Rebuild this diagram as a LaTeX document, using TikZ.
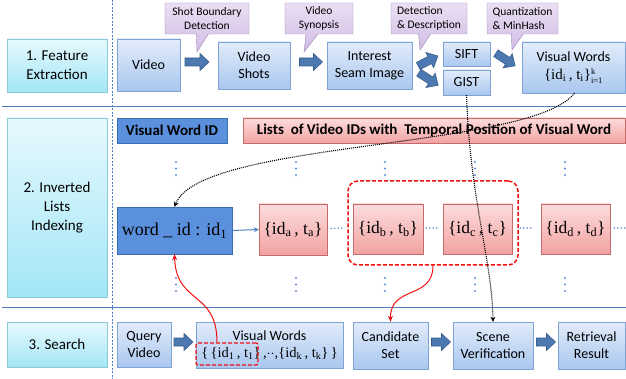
\documentclass[tikz,border=0pt]{standalone}
\usepackage{fontspec}
\setmainfont{Carlito}
\newfontfamily\tnr{Liberation Serif}
\usetikzlibrary{shapes.callouts,arrows.meta,calc}
\definecolor{lblT}{HTML}{E6F9FD}
\definecolor{lblBot}{HTML}{A3E6F6}
\definecolor{lblB}{HTML}{8CC8D8}
\definecolor{bbT}{HTML}{E2ECFA}
\definecolor{bbBot}{HTML}{A9C7EF}
\definecolor{bbB}{HTML}{7FA3D3}
\definecolor{clT}{HTML}{EADFF3}
\definecolor{clBot}{HTML}{D2BCE5}
\definecolor{clB}{HTML}{9C82BB}
\definecolor{arF}{HTML}{4C79B1}
\definecolor{arB}{HTML}{385E8E}
\definecolor{dkF}{HTML}{5A90DC}
\definecolor{dkB}{HTML}{3C6CB2}
\definecolor{pkT}{HTML}{FDDCDC}
\definecolor{pkBot}{HTML}{F2A2A2}
\definecolor{pkB}{HTML}{C46A6A}
\definecolor{dotC}{HTML}{5B8ED6}
\definecolor{divC}{HTML}{4F7FC0}
\definecolor{redC}{HTML}{F01010}
% block arrow: centre x, centre y, angle, half length
\newcommand{\blockarr}[4]{%
  \begin{scope}[shift={(#1,#2)},rotate=#3]
    \filldraw[barrowstyle] (-#4,-4) -- ({#4-9},-4) -- ({#4-9},-8.5) -- (#4,0) -- ({#4-9},8.5) -- ({#4-9},4) -- (-#4,4) -- cycle;
  \end{scope}}
\begin{document}
\begin{tikzpicture}[x=1pt,y=-1pt,
  lbl/.style={draw=lblB, top color=lblT, bottom color=lblBot, minimum width=100, font=\fontsize{15}{19}\selectfont, align=center, inner sep=0},
  bbox/.style={draw=bbB, top color=bbT, bottom color=bbBot, font=\fontsize{14}{17}\selectfont, align=center, inner sep=0},
  call/.style={rectangle callout, draw=clB, top color=clT, bottom color=clBot, font=\fontsize{11.5}{14}\selectfont, inner sep=0, callout pointer width=12},
  barrowstyle/.style={draw=arB, fill=arF, line width=0.6},
  dkbox/.style={draw=dkB, fill=dkF, inner sep=0},
  pk/.style={draw=pkB, top color=pkT, bottom color=pkBot, inner sep=0},
  mathbig/.style={font=\tnr\fontsize{17.5}{20}\selectfont},
  vdots/.style={draw=dotC, line width=2.4, line cap=round, dash pattern=on 0pt off 6.5pt},
  hdots/.style={draw=dotC, line width=1.7, line cap=round, dash pattern=on 0pt off 3.5pt},
  blkdot/.style={draw=black, line width=1.1, dash pattern=on 1pt off 1pt, -{Stealth[length=5pt,width=5pt]}},
  redline/.style={draw=redC, line width=1, -{Stealth[length=6pt,width=5pt]}},
  reddash/.style={draw=redC, line width=1.5, dashed, dash pattern=on 4pt off 2pt}
]
\useasboundingbox (0,0) rectangle (626,379);
% dividers
\draw[divC, line width=1] (2,107) -- (626,107);
\draw[divC, line width=1] (2,307) -- (626,307);
\draw[divC, line width=0.8, dash pattern=on 2pt off 1.5pt] (112,0) -- (112,379);
% row labels
\node[lbl, minimum height=53] (L1) at (57,65.5) {1. Feature\\Extraction};
\node[lbl, minimum height=179] (L2) at (57,207.5) {2. Inverted\\Lists\\Indexing};
\node[lbl, minimum height=45] (L3) at (57,344.5) {3. Search};
% top row
\node[bbox, minimum width=63, minimum height=52] (video) at (148.5,65) {Video};
\node[bbox, minimum width=72, minimum height=47] (shots) at (254,65.5) {Video\\Shots};
\node[bbox, minimum width=85, minimum height=47] (seam) at (369.5,65.5) {Interest\\Seam Image};
\node[bbox, minimum width=47, minimum height=24] (sift) at (466.5,54) {SIFT};
\node[bbox, minimum width=47, minimum height=25] (gist) at (466.5,82.5) {GIST};
\node[bbox, minimum width=103, minimum height=51] (vw) at (573.5,67.5) {Visual Words\\[1pt]{\tnr\fontsize{15}{16}\selectfont \{id\textsubscript{i}\,, t\textsubscript{i}\}$^{\mbox{\tnr\fontsize{8.5}{8.5}\selectfont k}}_{\mbox{\tnr\fontsize{8.5}{8.5}\selectfont i=1}}$}};
% callouts
\node[call, minimum width=84, minimum height=31, align=center, callout absolute pointer={(197,52)}] (c1) at (207,18.5) {Shot Boundary\\Detection};
\node[call, minimum width=68, minimum height=31, align=center, callout absolute pointer={(304,52)}] (c2) at (319,18.5) {Video\\Synopsis};
\node[call, minimum width=76, minimum height=31, align=left, callout absolute pointer={(420,50)}] (c3) at (429,18.5) {Detection\\\& Description};
\node[call, minimum width=71, minimum height=31, align=left, callout absolute pointer={(512,50)}] (c4) at (522.5,18.5) {Quantization\\\& MinHash};
% block arrows
\blockarr{197}{62}{0}{12}
\blockarr{311}{62}{0}{11.5}
\blockarr{428}{61}{27}{11}
\blockarr{428.5}{79}{-33}{11.5}
\blockarr{505.5}{59.5}{-33}{11.5}
% middle row
\node[dkbox, minimum width=110, minimum height=25, font=\bfseries\fontsize{15}{17}\selectfont] (vwid) at (172,130.5) {Visual Word ID};
\node[pk, minimum width=382, minimum height=25, font=\bfseries\fontsize{15}{17}\selectfont] (lists) at (434,130.5) {Lists~~of Video IDs with~~Temporal Position of Visual Word};
\node[dkbox, minimum width=115, minimum height=47, font=\tnr\fontsize{18}{20}\selectfont] (wid) at (174.5,230.5) {word \_ id : id\textsubscript{1}};
\node[pk, minimum width=68, minimum height=51, mathbig] (la) at (293,229.5) {\{id\textsubscript{a}\,, t\textsubscript{a}\}};
\node[pk, minimum width=70, minimum height=50, mathbig] (lb) at (388,229) {\{id\textsubscript{b}\,, t\textsubscript{b}\}};
\node[pk, minimum width=69, minimum height=50, mathbig] (lc) at (477.5,229) {\{id\textsubscript{c}\,, t\textsubscript{c}\}};
\node[pk, minimum width=69, minimum height=50, mathbig] (ld) at (575.5,229) {\{id\textsubscript{d}\,, t\textsubscript{d}\}};
\node[reddash, rounded corners=10, minimum width=170, minimum height=84] (rr) at (433,223) {};
\coordinate (rend) at (628,228);
% vertical dots
\foreach \xx in {176,296,385,475,565} {
  \draw[vdots] (\xx,162) -- (\xx,176);
  \draw[vdots] (\xx,278) -- (\xx,292);
}
% horizontal dots
\draw[hdots] ($(la.east)+(4,-1)$) -- ($(lb.west)+(-9,-1)$);
\draw[hdots] ($(lb.east)+(3,-1)$) -- ($(lc.west)+(-4,-1)$);
\draw[hdots] ($(lc.east)+(8,-1)$) -- ($(ld.west)+(-7,-1)$);
\draw[hdots] ($(ld.east)+(4,-1)$) -- (rend);
\draw[divC, line width=1, -{Stealth[length=5pt,width=5pt]}] (wid.east) -- (la.west);
% bottom row
\node[bbox, minimum width=54, minimum height=45] (query) at (144,344.5) {Query\\Video};
\node[bbox, minimum width=147, minimum height=46] (vwq) at (269.5,345) {Visual Words\\[0pt]{\tnr\fontsize{14.5}{15}\selectfont \{\,\{id\textsubscript{1}\,, t\textsubscript{1}\}\,,$\cdot\cdot$,\{id\textsubscript{k}\,, t\textsubscript{k}\}\,\}}};
\node[bbox, minimum width=75, minimum height=47] (cand) at (390.5,345.5) {Candidate\\Set};
\node[bbox, minimum width=80, minimum height=47] (scene) at (493,345.5) {Scene\\Verification};
\node[bbox, minimum width=67, minimum height=47] (ret) at (591.5,345.5) {Retrieval\\Result};
\blockarr{183.5}{342}{0}{9.5}
\blockarr{441}{342}{0}{9.5}
\blockarr{546}{342}{0}{9.5}
\node[reddash, rounded corners=2, line width=1.3, minimum width=62, minimum height=22] (rb) at (227,354) {};
% connectors
\draw[blkdot] ($(vw.south)+(1,0)$) .. controls (530,150) and (200,140) .. (wid.north);
\draw[blkdot] (gist.south) .. controls (470,200) and (492,260) .. (scene.north);
\draw[redline] ($(rb.north)+(-10,0)$) .. controls (217,290) and (176,305) .. (wid.south);
\draw[redline] (rr.south) .. controls (433,300) and (390,285) .. (cand.north);
\end{tikzpicture}
\end{document}
